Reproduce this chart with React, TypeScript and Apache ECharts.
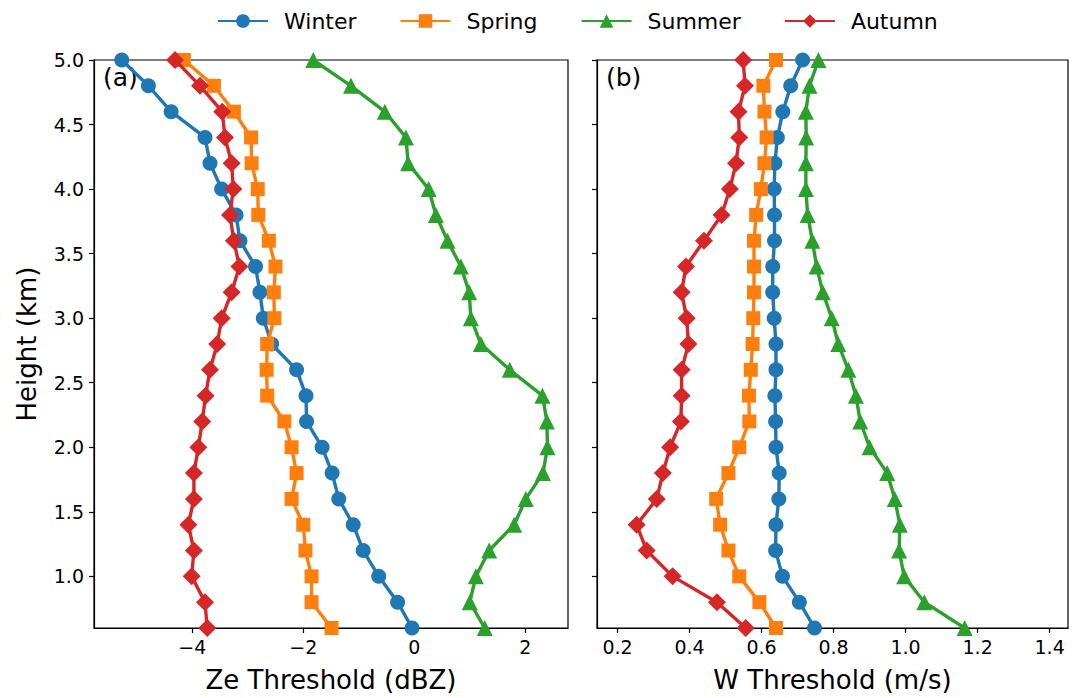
import React, { useEffect, useRef } from "react";
import * as echarts from "echarts";

const heights = [0.6, 0.8, 1.0, 1.2, 1.4, 1.6, 1.8, 2.0, 2.2, 2.4, 2.6, 2.8, 3.0, 3.2, 3.4, 3.6, 3.8, 4.0, 4.2, 4.4, 4.6, 4.8, 5.0];

const seasons = ["Winter", "Spring", "Summer", "Autumn"];
const colors = ["#1f77b4", "#ff7f0e", "#2ca02c", "#d62728"];
const symbols = ["circle", "rect", "triangle", "diamond"];
const symbolSizes = [15, 14, 16, 18];

const zeWinter = [-0.04, -0.30, -0.64, -0.92, -1.10, -1.36, -1.48, -1.66, -1.94, -1.95, -2.12, -2.57, -2.72, -2.78, -2.86, -3.14, -3.21, -3.47, -3.68, -3.77, -4.38, -4.79, -5.27];
const zeSpring = [-1.49, -1.85, -1.85, -1.96, -2.00, -2.21, -2.12, -2.21, -2.34, -2.65, -2.66, -2.65, -2.52, -2.53, -2.50, -2.62, -2.81, -2.82, -2.93, -2.94, -3.25, -3.61, -4.15];
const zeSummer = [1.27, 1.00, 1.11, 1.35, 1.80, 2.01, 2.32, 2.40, 2.39, 2.31, 1.72, 1.20, 1.02, 0.99, 0.84, 0.60, 0.39, 0.26, -0.11, -0.15, -0.53, -1.14, -1.82];
const zeAutumn = [-3.73, -3.77, -4.01, -3.97, -4.07, -3.97, -3.97, -3.89, -3.82, -3.76, -3.68, -3.55, -3.47, -3.29, -3.15, -3.25, -3.32, -3.26, -3.29, -3.41, -3.46, -3.86, -4.31];

const wWinter = [0.747, 0.705, 0.658, 0.639, 0.640, 0.648, 0.649, 0.640, 0.639, 0.637, 0.640, 0.640, 0.635, 0.631, 0.631, 0.636, 0.636, 0.635, 0.637, 0.644, 0.659, 0.681, 0.714];
const wSpring = [0.640, 0.594, 0.538, 0.508, 0.485, 0.474, 0.508, 0.538, 0.566, 0.565, 0.570, 0.575, 0.577, 0.579, 0.579, 0.579, 0.585, 0.598, 0.608, 0.614, 0.608, 0.605, 0.640];
const wSummer = [1.164, 1.052, 0.996, 0.982, 0.984, 0.970, 0.949, 0.900, 0.874, 0.862, 0.841, 0.813, 0.795, 0.770, 0.753, 0.741, 0.728, 0.723, 0.723, 0.724, 0.723, 0.733, 0.758];
const wAutumn = [0.556, 0.476, 0.353, 0.281, 0.253, 0.309, 0.326, 0.346, 0.376, 0.378, 0.378, 0.397, 0.392, 0.378, 0.390, 0.440, 0.489, 0.512, 0.529, 0.538, 0.536, 0.554, 0.549];

const zeTicks = [-4, -2, 0, 2];
const wTicks = [0.2, 0.4, 0.6, 0.8, 1.0, 1.2, 1.4];
const hTicks = [1.0, 1.5, 2.0, 2.5, 3.0, 3.5, 4.0, 4.5, 5.0];

const zeData = [zeWinter, zeSpring, zeSummer, zeAutumn];
const wData = [wWinter, wSpring, wSummer, wAutumn];

const FONT = "DejaVu Sans";

export default function App() {
  const ref = useRef<HTMLDivElement>(null);
  useEffect(() => {
    if (!ref.current) return;
    const chart = echarts.init(ref.current, null, { renderer: "svg" });
    const minusFmt = (v: number) => (v < 0 ? "\u2212" + Math.abs(v) : String(v));
    const axisCommon = {
      axisLine: { show: true, onZero: false, lineStyle: { color: "#000", width: 1.2 } },
      splitLine: { show: false },
    };
    const mkSeries = (data: number[][], xi: number) =>
      seasons.map((name, i) => ({
        name,
        type: "line",
        xAxisIndex: xi,
        yAxisIndex: xi,
        data: data[i].map((v, k) => [v, heights[k]]),
        symbol: symbols[i],
        symbolSize: symbolSizes[i],
        color: colors[i],
        lineStyle: { width: 3.4, color: colors[i] },
        itemStyle: { color: colors[i] },
        clip: true,
        z: 2 + i,
      }));
    chart.setOption({
      animation: false,
      textStyle: { fontFamily: FONT },
      legend: {
        top: 5,
        left: 212,
        itemWidth: 50,
        itemHeight: 17,
        itemGap: 43,
        textStyle: { fontSize: 22, color: "#000", fontFamily: FONT, padding: [0, 0, 0, 11] },
        data: seasons,
      },
      grid: [
        { left: 94, top: 60, width: 474, height: 572, show: true, borderColor: "#000", borderWidth: 1.2, containLabel: false },
        { left: 597, top: 60, width: 471, height: 572, show: true, borderColor: "#000", borderWidth: 1.2, containLabel: false },
      ],
      xAxis: [
        {
          type: "value",
          gridIndex: 0,
          min: -5.77,
          max: 2.77,
          ...axisCommon,
          axisTick: { show: true, customValues: zeTicks, length: 5, lineStyle: { color: "#000", width: 1.2 } },
          axisLabel: { customValues: zeTicks, formatter: minusFmt, fontSize: 19, color: "#000", margin: 9, fontFamily: FONT },
          name: "Ze Threshold (dBZ)",
          nameLocation: "middle",
          nameGap: 39,
          nameTextStyle: { fontSize: 26, color: "#000", fontFamily: FONT },
        },
        {
          type: "value",
          gridIndex: 1,
          min: 0.143,
          max: 1.451,
          ...axisCommon,
          axisTick: { show: true, customValues: wTicks, length: 5, lineStyle: { color: "#000", width: 1.2 } },
          axisLabel: { customValues: wTicks, formatter: (v: number) => v.toFixed(1), fontSize: 19, color: "#000", margin: 9, fontFamily: FONT },
          name: "W Threshold (m/s)",
          nameLocation: "middle",
          nameGap: 39,
          nameTextStyle: { fontSize: 26, color: "#000", fontFamily: FONT },
        },
      ],
      yAxis: [
        {
          type: "value",
          gridIndex: 0,
          min: 0.6,
          max: 5.0,
          ...axisCommon,
          axisTick: { show: true, customValues: hTicks, length: 5, lineStyle: { color: "#000", width: 1.2 } },
          axisLabel: { customValues: hTicks, formatter: (v: number) => v.toFixed(1), fontSize: 19, color: "#000", margin: 10, fontFamily: FONT },
          name: "Height (km)",
          nameLocation: "middle",
          nameGap: 54,
          nameRotate: 90,
          nameTextStyle: { fontSize: 26, color: "#000", fontFamily: FONT },
        },
        {
          type: "value",
          gridIndex: 1,
          min: 0.6,
          max: 5.0,
          ...axisCommon,
          axisTick: { show: true, customValues: hTicks, length: 5, lineStyle: { color: "#000", width: 1.2 } },
          axisLabel: { show: false },
        },
      ],
      graphic: [
        { type: "text", left: 103, top: 65, style: { text: "(a)", fontSize: 25, fill: "#000", fontFamily: FONT } },
        { type: "text", left: 606, top: 65, style: { text: "(b)", fontSize: 25, fill: "#000", fontFamily: FONT } },
      ],
      series: [...mkSeries(zeData, 0), ...mkSeries(wData, 1)],
    });
    return () => chart.dispose();
  }, []);
  return <div ref={ref} style={{ position: "fixed", left: 0, top: 0, width: 1078, height: 698, background: "#fff" }} />;
}
